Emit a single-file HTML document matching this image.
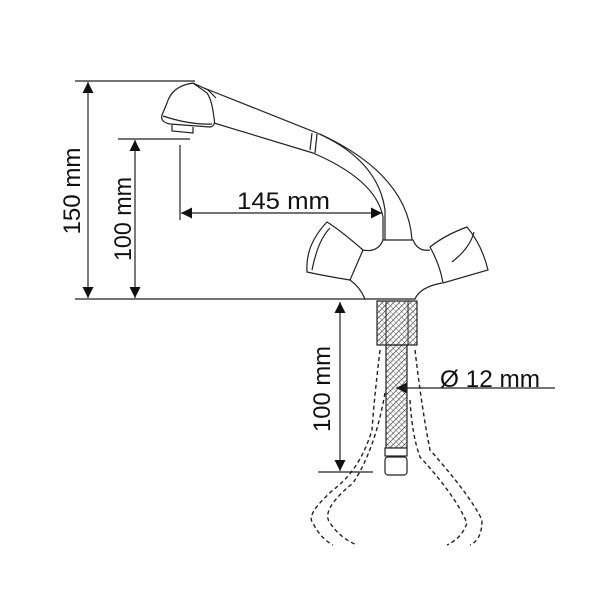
<!DOCTYPE html>
<html><head><meta charset="utf-8"><style>html,body{margin:0;padding:0;background:#fff}svg{display:block}</style></head>
<body>
<svg width="600" height="600" viewBox="0 0 600 600" xmlns="http://www.w3.org/2000/svg">
<defs>
<marker id="a" viewBox="0 0 10 10" refX="10" refY="5" markerWidth="11" markerHeight="11" orient="auto-start-reverse" markerUnits="userSpaceOnUse"><path d="M0,0 L10,5 L0,10 z" fill="#111"/></marker>
<pattern id="h" width="4" height="4" patternUnits="userSpaceOnUse" patternTransform="rotate(45)"><line x1="0" y1="0" x2="0" y2="4" stroke="#222" stroke-width="1.2"/><line x1="0" y1="0" x2="4" y2="0" stroke="#444" stroke-width="0.7"/></pattern>
</defs>
<g stroke="#222" stroke-width="1.2" fill="none">
<line x1="75" y1="81" x2="195" y2="81"/>
<line x1="118" y1="139" x2="190" y2="139"/>
<line x1="75" y1="299" x2="365" y2="299"/>
<line x1="180" y1="145" x2="180" y2="220"/>
<line x1="318" y1="472" x2="373" y2="472"/>
<line x1="88" y1="82" x2="88" y2="298" marker-start="url(#a)" marker-end="url(#a)"/>
<line x1="135" y1="140" x2="135" y2="298" marker-start="url(#a)" marker-end="url(#a)"/>
<line x1="181" y1="213" x2="382" y2="213" marker-start="url(#a)" marker-end="url(#a)"/>
<line x1="340" y1="302" x2="340" y2="471" marker-start="url(#a)" marker-end="url(#a)"/>
<line x1="555" y1="388" x2="396" y2="388" marker-end="url(#a)"/>
<path d="M193,83 Q172,86 167,103 L162,115 Q160,122 170,124 L210,127 Q216,126 214,118 Q212,100 207,93 Z"/>
<path d="M163,116 Q190,125 212,124"/>
<path d="M172,125 L172,131 L193,133 L193,127"/>
<path d="M193,83 L208,90 L216,98"/>
<path d="M204,88 L317,133 Q378,160 385,210 L385,240"/>
<path d="M214,123 L313,153 Q376,180 383,217 L383,240"/>
<path d="M312,133 L310,150 M317,134 L315,153"/>
<path d="M412,240 Q408,175 320,134"/>
<path d="M383,240 L413,240 Q418,252 430,250 M383,240 Q378,253 362,250 M350,280 Q360,287 365,299 L415,299 Q420,287 442,283"/>
<path d="M327,222 Q340,230 363,250 L350,280 Q325,276 307,272 Q305,245 327,222 Z"/>
<path d="M430,247 Q445,235 467,227 Q482,245 488,270 L443,283 Q440,265 430,247 Z"/>
<path d="M312,270 Q318,240 330,228 M452,262 Q470,248 474,232"/>
</g>
<rect x="377" y="301" width="40" height="44" fill="url(#h)" stroke="#222" stroke-width="1.2"/>
<line x1="386" y1="301" x2="386" y2="345" stroke="#222"/><line x1="408" y1="301" x2="408" y2="345" stroke="#222"/>
<rect x="386" y="345" width="21" height="103" fill="url(#h)" stroke="#222" stroke-width="1.2"/>
<rect x="385" y="448" width="22" height="8" fill="#fff" stroke="#222" stroke-width="1.2"/>
<rect x="385" y="457" width="22" height="18" rx="3" fill="#fff" stroke="#222" stroke-width="1.2"/>
<g stroke="#222" stroke-width="1.4" fill="none" stroke-dasharray="4,3">
<path d="M380,350 Q374,400 372,430 Q360,470 333,490 Q305,515 313,523 Q320,538 333,545"/>
<path d="M385,393 Q375,450 353,483 Q320,510 330,523 Q340,538 357,545"/>
<path d="M415,350 Q422,410 430,450 Q470,495 482,520 Q482,540 470,545"/>
<path d="M410,400 Q412,435 420,457 Q455,495 467,523 Q462,538 447,545"/>
</g>
<g font-family="Liberation Sans, sans-serif" font-size="24" fill="#111">
<text x="237" y="209" textLength="93" lengthAdjust="spacingAndGlyphs">145 mm</text>
<text x="440" y="387" textLength="100" lengthAdjust="spacingAndGlyphs">Ø 12 mm</text>
<text transform="translate(80,191) rotate(-90)" text-anchor="middle" textLength="87" lengthAdjust="spacingAndGlyphs">150 mm</text>
<text transform="translate(131,219) rotate(-90)" text-anchor="middle" textLength="84" lengthAdjust="spacingAndGlyphs">100 mm</text>
<text transform="translate(330,389) rotate(-90)" text-anchor="middle" textLength="86" lengthAdjust="spacingAndGlyphs">100 mm</text>
</g>
</svg>
</body></html>
